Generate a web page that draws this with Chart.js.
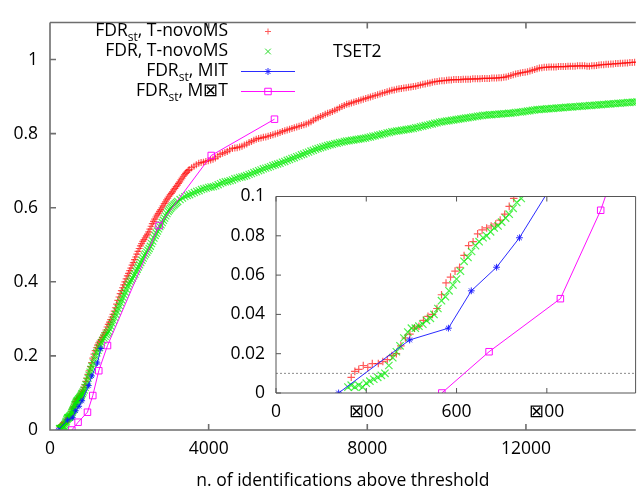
<!DOCTYPE html>
<html>
<head>
<meta charset="utf-8">
<script src="https://cdn.jsdelivr.net/npm/chart.js@4.4.1/dist/chart.umd.min.js"></script>
<style>
html, body { margin: 0; padding: 0; background: #fff; overflow: hidden; }
#wrap { position: relative; width: 642px; height: 489px; }
#main { position: absolute; left: 0; top: 0; }
#inset { position: absolute; left: 230px; top: 175px; }
</style>
</head>
<body>
<div id="wrap">
  <canvas id="main" width="642" height="489"></canvas>
  <canvas id="inset" width="412" height="250"></canvas>
</div>
<script>
// [n. of identifications, FDR]
const fdrStTnovo = [
  [250,0.008],[262,0.011],[275,0.012],[290,0.014],[305,0.013],[320,0.015],[340,0.015],[355,0.016],[370,0.017],[385,0.019],
  [400,0.020],[415,0.024],[430,0.028],[445,0.030],[460,0.033],[475,0.034],[490,0.037],[505,0.039],[520,0.040],[535,0.043],
  [550,0.050],[565,0.056],[580,0.059],[595,0.062],[610,0.064],[625,0.070],[640,0.075],[655,0.077],[670,0.081],[685,0.083],
  [700,0.084],[715,0.085],[730,0.086],[745,0.088],[760,0.091],[775,0.095],[790,0.099],
  [810,0.103],[830,0.108],[855,0.115],[880,0.122],[905,0.131],[930,0.140],[960,0.150],[988,0.160],[1020,0.171],[1050,0.182],
  [1080,0.194],[1110,0.205],[1140,0.214],[1170,0.222],[1200,0.229],[1230,0.235],[1260,0.240],[1290,0.244],[1320,0.250],[1350,0.256],
  [1380,0.263],[1410,0.270],[1440,0.278],[1470,0.285],[1500,0.291],[1530,0.298],[1560,0.305],[1590,0.312],[1620,0.321],[1650,0.330],
  [1680,0.340],[1710,0.350],[1740,0.359],[1770,0.368],[1800,0.376],[1830,0.384],[1860,0.392],[1890,0.400],[1920,0.408],[1950,0.416],
  [1980,0.423],[2010,0.430],[2040,0.437],[2070,0.445],[2100,0.452],[2130,0.460],[2160,0.467],[2190,0.475],[2220,0.482],[2250,0.490],
  [2280,0.497],[2310,0.503],[2340,0.509],[2370,0.514],[2400,0.519],[2430,0.524],[2460,0.529],[2490,0.535],[2520,0.542],[2550,0.550],
  [2580,0.557],[2610,0.563],[2640,0.569],[2670,0.575],[2700,0.580],[2730,0.585],[2760,0.590],[2790,0.595],[2820,0.600],[2850,0.605],
  [2880,0.611],[2910,0.616],[2940,0.621],[2970,0.626],[3000,0.631],[3030,0.635],[3060,0.639],[3090,0.643],[3120,0.648],[3150,0.652],
  [3180,0.657],[3210,0.661],[3240,0.666],[3270,0.670],[3300,0.675],[3330,0.680],[3360,0.685],[3390,0.689],[3420,0.693],[3450,0.696],
  [3480,0.700],[3510,0.703],[3570,0.708],[3630,0.712],[3690,0.716],[3750,0.720],
  [3810,0.722],[3870,0.723],[3930,0.725],[3990,0.727],[4050,0.729],[4110,0.731],[4170,0.734],[4230,0.739],[4290,0.744],[4350,0.747],
  [4410,0.749],[4470,0.752],[4530,0.756],
  [4600,0.760],[4660,0.761],[4720,0.762],[4780,0.764],[4840,0.766],[4900,0.769],[4960,0.772],[5020,0.776],[5080,0.779],[5140,0.782],
  [5200,0.785],[5260,0.787],[5320,0.788],[5380,0.790],[5440,0.791],[5500,0.793],[5560,0.795],[5620,0.797],[5680,0.799],[5740,0.801],
  [5800,0.803],[5860,0.806],[5920,0.808],[5980,0.810],[6040,0.812],[6100,0.814],[6160,0.816],[6220,0.818],[6280,0.820],[6340,0.822],
  [6400,0.824],[6460,0.826],[6520,0.829],[6580,0.832],[6640,0.836],[6700,0.840],[6760,0.843],[6820,0.846],[6880,0.849],[6940,0.852],
  [7000,0.855],[7060,0.857],[7120,0.860],[7180,0.863],[7240,0.866],[7300,0.870],[7360,0.873],[7420,0.876],[7480,0.879],[7540,0.881],
  [7600,0.883],[7660,0.885],[7720,0.887],[7780,0.889],[7840,0.891],[7900,0.893],[7960,0.895],[8020,0.897],[8080,0.899],[8140,0.901],
  [8200,0.903],[8260,0.905],[8320,0.907],[8380,0.909],[8440,0.911],[8500,0.913],[8560,0.915],[8620,0.917],[8680,0.918],[8740,0.920],
  [8800,0.921],[8860,0.922],[8920,0.923],[8980,0.924],[9040,0.925],[9100,0.926],[9160,0.927],[9220,0.928],[9280,0.930],[9340,0.931],
  [9400,0.933],[9460,0.934],[9520,0.936],[9580,0.937],[9640,0.939],[9700,0.940],[9760,0.941],[9820,0.942],[9880,0.943],[9940,0.943],
  [10000,0.944],[10060,0.945],[10120,0.945],[10180,0.946],[10240,0.946],[10300,0.946],[10360,0.946],[10420,0.947],[10480,0.947],[10540,0.947],
  [10600,0.947],[10660,0.948],[10720,0.948],[10780,0.948],[10840,0.948],[10900,0.949],[10960,0.949],[11020,0.949],[11080,0.949],[11140,0.950],
  [11200,0.950],[11260,0.950],[11320,0.951],[11380,0.951],[11440,0.952],[11500,0.953],[11560,0.955],[11620,0.957],[11680,0.959],[11740,0.961],
  [11800,0.962],[11860,0.964],[11920,0.965],[11980,0.966],[12040,0.967],[12100,0.969],[12160,0.971],[12220,0.973],[12280,0.975],[12340,0.977],
  [12400,0.978],[12460,0.979],[12520,0.979],[12580,0.980],[12640,0.980],[12700,0.980],[12760,0.980],[12820,0.981],[12880,0.981],[12940,0.981],
  [13000,0.981],[13060,0.982],[13120,0.982],[13180,0.982],[13240,0.982],[13300,0.983],[13360,0.983],[13420,0.983],[13480,0.983],[13540,0.982],
  [13600,0.982],[13660,0.983],[13720,0.983],[13780,0.984],[13840,0.985],[13900,0.986],[13960,0.986],[14020,0.987],[14080,0.987],[14140,0.988],
  [14200,0.988],[14260,0.989],[14320,0.989],[14380,0.990],[14440,0.990],[14500,0.991],[14560,0.991],[14620,0.992],[14680,0.992],[14740,0.993],
  [14800,0.993]
];

const fdrTnovo = [
  [239,0.003],[250,0.004],[262,0.003],[275,0.004],[288,0.003],[300,0.005],[312,0.006],[325,0.007],[338,0.008],[350,0.009],
  [362,0.010],[375,0.014],[388,0.018],[400,0.021],[412,0.024],[425,0.028],[438,0.031],[450,0.033],[463,0.033],[475,0.034],
  [488,0.035],[500,0.037],[513,0.038],[525,0.040],[538,0.043],[550,0.047],[563,0.049],[575,0.052],[588,0.055],[600,0.058],
  [613,0.062],[625,0.067],[638,0.069],[650,0.072],[663,0.075],[675,0.077],[688,0.079],[700,0.080],[713,0.082],[725,0.084],
  [738,0.085],[750,0.087],[763,0.089],[775,0.091],[788,0.094],[800,0.097],[815,0.099],
  [835,0.103],[860,0.108],[885,0.115],[910,0.122],[935,0.131],[960,0.140],[985,0.148],[1010,0.156],[1035,0.164],[1060,0.172],
  [1090,0.181],[1120,0.190],[1150,0.199],[1180,0.208],[1210,0.215],[1240,0.222],[1270,0.229],[1300,0.236],[1330,0.242],[1360,0.248],
  [1390,0.253],[1420,0.258],[1450,0.262],[1480,0.266],[1510,0.273],[1540,0.280],[1570,0.288],[1600,0.296],[1630,0.304],[1660,0.312],
  [1690,0.320],[1720,0.328],[1750,0.336],[1780,0.344],[1810,0.351],[1840,0.358],[1870,0.365],[1900,0.372],[1930,0.380],[1960,0.388],
  [1990,0.394],[2020,0.400],[2050,0.405],[2080,0.410],[2110,0.416],[2140,0.421],[2170,0.428],[2200,0.434],[2230,0.440],[2260,0.446],
  [2290,0.452],[2320,0.458],[2350,0.464],[2380,0.470],[2410,0.475],[2440,0.480],[2470,0.485],[2500,0.490],[2530,0.496],[2560,0.503],
  [2590,0.510],[2620,0.518],[2650,0.525],[2680,0.531],[2710,0.537],[2740,0.543],[2770,0.549],[2800,0.554],[2830,0.560],[2860,0.566],
  [2890,0.572],[2920,0.578],[2950,0.584],[2980,0.590],[3010,0.594],[3040,0.598],[3070,0.602],[3100,0.605],[3130,0.608],[3160,0.611],
  [3190,0.614],[3220,0.617],[3280,0.622],[3340,0.626],[3400,0.630],[3460,0.633],[3520,0.635],[3580,0.638],[3640,0.641],[3700,0.644],
  [3760,0.646],[3820,0.649],[3880,0.651],[3940,0.653],[4000,0.655],[4060,0.656],[4120,0.657],[4180,0.659],[4240,0.662],[4300,0.665],
  [4360,0.668],[4420,0.670],[4480,0.671],[4540,0.673],
  [4600,0.675],[4660,0.678],[4720,0.680],[4780,0.682],[4840,0.683],[4900,0.685],[4960,0.687],[5020,0.690],[5080,0.692],[5140,0.695],
  [5200,0.697],[5260,0.700],[5320,0.702],[5380,0.705],[5440,0.707],[5500,0.709],[5560,0.711],[5620,0.714],[5680,0.716],[5740,0.718],
  [5800,0.720],[5860,0.723],[5920,0.725],[5980,0.728],[6040,0.730],[6100,0.733],[6160,0.735],[6220,0.738],[6280,0.740],[6340,0.743],
  [6400,0.745],[6460,0.748],[6520,0.750],[6580,0.753],[6640,0.755],[6700,0.758],[6760,0.760],[6820,0.762],[6880,0.764],[6940,0.766],
  [7000,0.768],[7060,0.770],[7120,0.771],[7180,0.773],[7240,0.774],[7300,0.776],[7360,0.777],[7420,0.779],[7480,0.780],[7540,0.781],
  [7600,0.782],[7660,0.783],[7720,0.784],[7780,0.785],[7840,0.786],[7900,0.787],[7960,0.788],[8020,0.790],[8080,0.791],[8140,0.793],
  [8200,0.794],[8260,0.796],[8320,0.797],[8380,0.799],[8440,0.800],[8500,0.802],[8560,0.803],[8620,0.805],[8680,0.806],[8740,0.807],
  [8800,0.808],[8860,0.809],[8920,0.810],[8980,0.811],[9040,0.812],[9100,0.813],[9160,0.814],[9220,0.816],[9280,0.817],[9340,0.819],
  [9400,0.820],[9460,0.822],[9520,0.823],[9580,0.825],[9640,0.826],[9700,0.828],[9760,0.829],[9820,0.831],[9880,0.832],[9940,0.833],
  [10000,0.834],[10060,0.835],[10120,0.836],[10180,0.837],[10240,0.838],[10300,0.839],[10360,0.840],[10420,0.841],[10480,0.842],[10540,0.843],
  [10600,0.844],[10660,0.845],[10720,0.846],[10780,0.847],[10840,0.848],[10900,0.849],[10960,0.850],[11020,0.850],[11080,0.851],[11140,0.851],
  [11200,0.852],[11260,0.852],[11320,0.853],[11380,0.853],[11440,0.854],[11500,0.854],[11560,0.855],[11620,0.855],[11680,0.856],[11740,0.857],
  [11800,0.858],[11860,0.858],[11920,0.859],[11980,0.860],[12040,0.861],[12100,0.862],[12160,0.863],[12220,0.864],[12280,0.865],[12340,0.865],
  [12400,0.866],[12460,0.866],[12520,0.867],[12580,0.867],[12640,0.868],[12700,0.868],[12760,0.869],[12820,0.869],[12880,0.870],[12940,0.870],
  [13000,0.871],[13060,0.871],[13120,0.872],[13180,0.872],[13240,0.873],[13300,0.873],[13360,0.874],[13420,0.874],[13480,0.875],[13540,0.875],
  [13600,0.876],[13660,0.876],[13720,0.877],[13780,0.877],[13840,0.878],[13900,0.878],[13960,0.879],[14020,0.879],[14080,0.880],[14140,0.880],
  [14200,0.881],[14260,0.881],[14320,0.882],[14380,0.882],[14440,0.883],[14500,0.883],[14560,0.884],[14620,0.884],[14680,0.885],[14740,0.885],
  [14800,0.886]
];

const fdrStMit = [
  [208,0],[444,0.027],[573,0.033],[649,0.052],[733,0.064],[809,0.079],[975,0.12],[1055,0.146],[1196,0.181],[1280,0.22]
];

const fdrStMst = [
  [551,0],[708,0.021],[945,0.048],[1079,0.093],[1230,0.16],[1450,0.228],[2750,0.552],[4065,0.741],[5660,0.839]
];

const threshold = 0.01;

const mainXTicks = [0, 4000, 8000, 12000];
const mainYTicks = [0, 0.2, 0.4, 0.6, 0.8, 1];
const insetXTicks = [0, 300, 600, 900];
const insetXTickLabels = ['0', '\u22A000', '600', '\u22A000'];
const insetYTicks = [0, 0.02, 0.04, 0.06, 0.08, 0.1];

const legendLabels = [
  ['FDR', 'st', ', T-novoMS'],
  ['FDR', '', ', T-novoMS'],
  ['FDR', 'st', ', MIT'],
  ['FDR', 'st', ', M\u22A0T']
];
const panelTitle = 'TSET2';
const xTitle = 'n. of identifications above threshold';

const FONT = '"Open Sans"';
const FS = 17.5;
const pts = a => a.map(([x, y]) => ({ x, y }));

const RED = 'rgba(255,0,0,0.65)';
const GREEN = 'rgba(0,235,0,0.7)';
const BLUE = 'rgba(20,20,255,0.9)';
const MAGENTA = 'rgba(255,0,255,0.95)';

const legendStyles = [
  { color: 'rgb(255,90,90)', style: 'cross', r: 3, line: false },
  { color: 'rgb(40,220,40)', style: 'crossRot', r: 4, line: false },
  { color: BLUE, style: 'star', r: 3.5, line: true },
  { color: MAGENTA, style: 'rect', r: 4.6, line: true }
];

function seriesSets(big) {
  return [
    { data: pts(fdrStTnovo), showLine: false, pointStyle: 'cross', pointRadius: big ? 3.8 : 3.5,
      borderColor: RED, pointBorderWidth: 1.2, order: 4 },
    { data: pts(fdrTnovo), showLine: false, pointStyle: 'crossRot', pointRadius: big ? 5.2 : 5,
      borderColor: GREEN, pointBorderWidth: 1.2, order: 3 },
    { data: pts(fdrStMit), showLine: true, pointStyle: 'star', pointRadius: big ? 3.4 : 3,
      borderColor: BLUE, borderWidth: 1, pointBorderWidth: 1, backgroundColor: 'rgba(0,0,0,0)', order: 2 },
    { data: pts(fdrStMst), showLine: true, pointStyle: 'rect', pointRadius: 4.6,
      borderColor: MAGENTA, borderWidth: 1, pointBorderWidth: 1, backgroundColor: 'rgba(0,0,0,0)', order: 1 }
  ];
}

// gnuplot-like frame with inward ticks
const framePlugin = {
  id: 'gpFrame',
  afterDatasetsDraw(chart, args, opts) {
    const { ctx, chartArea: a, scales } = chart;
    ctx.save();
    ctx.strokeStyle = opts.color;
    ctx.lineWidth = opts.width;
    ctx.beginPath();
    ctx.moveTo(a.left, a.top); ctx.lineTo(a.left, a.bottom); ctx.lineTo(a.right, a.bottom);
    ctx.moveTo(a.left, a.top); ctx.lineTo(a.right, a.top);
    if (opts.right) { ctx.moveTo(a.right, a.top); ctx.lineTo(a.right, a.bottom); }
    opts.xTicks.forEach(v => {
      const px = scales.x.getPixelForValue(v);
      ctx.moveTo(px, a.bottom); ctx.lineTo(px, a.bottom - opts.tick);
      ctx.moveTo(px, a.top); ctx.lineTo(px, a.top + opts.tick);
    });
    opts.yTicks.forEach(v => {
      const py = scales.y.getPixelForValue(v);
      ctx.moveTo(a.left, py); ctx.lineTo(a.left + opts.tick, py);
    });
    ctx.stroke();
    ctx.restore();
  }
};

const legendPlugin = {
  id: 'gpLegend',
  afterDraw(chart) {
    const ctx = chart.ctx;
    ctx.save();
    ctx.textBaseline = 'middle';
    ctx.fillStyle = '#000';
    legendLabels.forEach((parts, i) => {
      const y = 31.5 + i * 20;
      const [a, sub, b] = parts;
      ctx.font = FS + 'px ' + FONT;
      const wa = ctx.measureText(a).width;
      const wb = ctx.measureText(b).width;
      ctx.font = '12px ' + FONT;
      const ws = sub ? ctx.measureText(sub).width : 0;
      let x = 228 - wa - ws - wb;
      ctx.font = FS + 'px ' + FONT;
      ctx.fillText(a, x, y); x += wa;
      if (sub) { ctx.font = '12px ' + FONT; ctx.fillText(sub, x, y + 6); x += ws; }
      ctx.font = FS + 'px ' + FONT;
      ctx.fillText(b, x, y);

      const st = legendStyles[i];
      ctx.strokeStyle = st.color;
      ctx.fillStyle = 'rgba(0,0,0,0)';
      ctx.lineWidth = 1;
      if (st.line) {
        ctx.beginPath(); ctx.moveTo(241, y); ctx.lineTo(295, y); ctx.stroke();
      }
      Chart.helpers.drawPoint(ctx, { pointStyle: st.style, radius: st.r, borderWidth: 1, rotation: 0 }, 268, y);
      ctx.fillStyle = '#000';
    });
    ctx.font = FS + 'px ' + FONT;
    ctx.textAlign = 'left';
    ctx.fillText(panelTitle, 333, 52);
    ctx.restore();
  }
};

const tickFont = { family: FONT, size: FS };

new Chart(document.getElementById('main'), {
  type: 'scatter',
  data: { datasets: seriesSets(false) },
  options: {
    responsive: false,
    animation: false,
    events: [],
    layout: { padding: { top: 15, right: 0, left: 0, bottom: 0 } },
    plugins: {
      legend: { display: false },
      tooltip: { enabled: false },
      gpFrame: { color: '#6e6e6e', width: 1.6, tick: 6, right: false, xTicks: mainXTicks, yTicks: mainYTicks }
    },
    scales: {
      x: {
        type: 'linear', min: 0, max: 14770,
        afterFit: s => { s.height = 59; },
        grid: { display: false, drawTicks: false },
        border: { display: false },
        afterBuildTicks: s => { s.ticks = mainXTicks.map(v => ({ value: v })); },
        ticks: { padding: 9, color: '#000', font: tickFont, maxRotation: 0, autoSkip: false, callback: v => String(v) },
        title: { display: true, text: xTitle, color: '#000', font: tickFont, padding: { top: 0, bottom: -3 } }
      },
      y: {
        type: 'linear', min: 0, max: 1.1,
        afterFit: s => { s.width = 50; },
        grid: { display: false, drawTicks: false },
        border: { display: false },
        afterBuildTicks: s => { s.ticks = mainYTicks.map(v => ({ value: v })); },
        ticks: { padding: 12, color: '#000', font: tickFont, autoSkip: false, callback: v => String(+v.toFixed(2)) }
      }
    }
  },
  plugins: [framePlugin, legendPlugin]
});

const insetSets = seriesSets(true);
insetSets.push({
  data: [{ x: 0, y: threshold }, { x: 1195, y: threshold }], showLine: true, pointRadius: 0,
  borderColor: '#8a8a8a', borderWidth: 1, borderDash: [2, 2], order: 5
});

new Chart(document.getElementById('inset'), {
  type: 'scatter',
  data: { datasets: insetSets },
  options: {
    responsive: false,
    animation: false,
    events: [],
    layout: { padding: { top: 16, right: 5, left: 0, bottom: 0 } },
    plugins: {
      legend: { display: false },
      tooltip: { enabled: false },
      gpFrame: { color: '#555', width: 1, tick: 5, right: true, xTicks: insetXTicks, yTicks: insetYTicks }
    },
    scales: {
      x: {
        type: 'linear', min: 0, max: 1195,
        afterFit: s => { s.height = 32; },
        grid: { display: false, drawTicks: false },
        border: { display: false },
        afterBuildTicks: s => { s.ticks = insetXTicks.map(v => ({ value: v })); },
        ticks: { padding: 9, color: '#000', font: tickFont, maxRotation: 0, autoSkip: false,
          callback: v => insetXTickLabels[insetXTicks.indexOf(v)] }
      },
      y: {
        type: 'linear', min: 0, max: 0.1,
        afterFit: s => { s.width = 46; },
        grid: { display: false, drawTicks: false },
        border: { display: false },
        afterBuildTicks: s => { s.ticks = insetYTicks.map(v => ({ value: v })); },
        ticks: { padding: 11, color: '#000', font: tickFont, autoSkip: false, callback: v => String(+v.toFixed(3)) }
      }
    }
  },
  plugins: [framePlugin]
});
</script>
</body>
</html>
